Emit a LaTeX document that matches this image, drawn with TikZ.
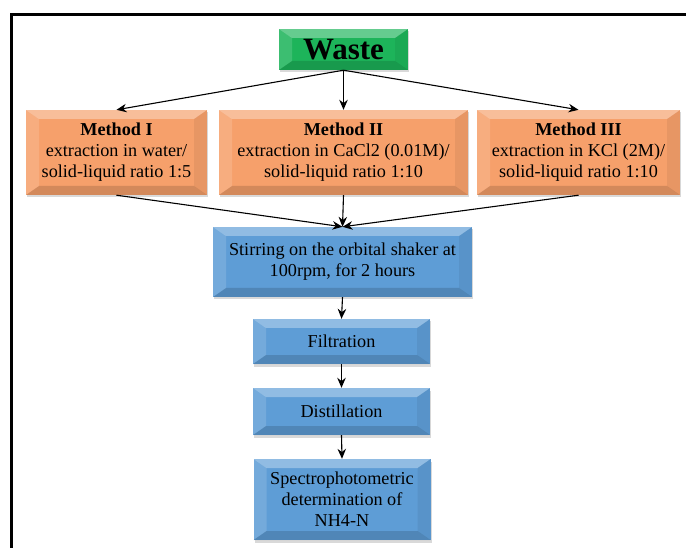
\documentclass[tikz,border=0pt]{standalone}
\usepackage{fontspec}
\setmainfont{Liberation Serif}
\usepackage{xcolor}
\usepackage{tikz}
\usetikzlibrary{calc,positioning,arrows.meta,shadows}
\definecolor{wastegreen}{HTML}{1DB45A}
\definecolor{methodorange}{HTML}{F6A06B}
\definecolor{stepblue}{HTML}{5E9DD6}

\begin{document}
\begin{tikzpicture}[x=1pt,y=-1pt,
  bevelbox/.style={draw=none, align=center, inner sep=2pt,
    font=\fontsize{18.2}{21}\selectfont,
    drop shadow={opacity=0.3, shadow xshift=1pt, shadow yshift=-2.5pt},
    path picture={
      \coordinate (nw) at (path picture bounding box.north west);
      \coordinate (ne) at (path picture bounding box.north east);
      \coordinate (sw) at (path picture bounding box.south west);
      \coordinate (se) at (path picture bounding box.south east);
      \fill[white, opacity=0.32] (nw) -- (ne) -- ($(ne)+(-13pt,-9pt)$) -- ($(nw)+(13pt,-9pt)$) -- cycle;
      \fill[white, opacity=0.14] (nw) -- ($(nw)+(13pt,-9pt)$) -- ($(sw)+(13pt,9pt)$) -- (sw) -- cycle;
      \fill[black, opacity=0.06] (ne) -- ($(ne)+(-13pt,-9pt)$) -- ($(se)+(-13pt,9pt)$) -- (se) -- cycle;
      \fill[black, opacity=0.14] (sw) -- ($(sw)+(13pt,9pt)$) -- ($(se)+(-13pt,9pt)$) -- (se) -- cycle;
    }},
  wastebox/.style={bevelbox, fill=wastegreen, minimum width=129pt, minimum height=41pt,
    font=\fontsize{31}{33}\selectfont\bfseries},
  methodbox/.style={bevelbox, fill=methodorange, minimum height=85pt},
  stepbox/.style={bevelbox, fill=stepblue, minimum width=177pt},
  flow/.style={-{Stealth[length=10pt,width=8.5pt]}, line width=1.1pt, black}
]
  \useasboundingbox (0,0) rectangle (686,548);
  % frame
  \draw[line width=3pt] (11,548) -- (11,15) -- (686,15);

  \node[wastebox] (waste) at (343.5,49.5) {Waste};

  \node[methodbox, minimum width=181pt] (m1) at (116.5,152.5) {\textbf{Method I}\\extraction in water/\\solid-liquid ratio 1:5};
  \node[methodbox, minimum width=249pt] (m2) at (343.5,152.5) {\textbf{Method II}\\extraction in CaCl2 (0.01M)/\\solid-liquid ratio 1:10};
  \node[methodbox, minimum width=203pt] (m3) at (578.5,152.5) {\textbf{Method III}\\extraction in KCl (2M)/\\solid-liquid ratio 1:10};

  \node[stepbox, minimum width=259pt, minimum height=70pt] (stir) at (342.5,262) {Stirring on the orbital shaker at\\100rpm, for 2 hours};
  \node[stepbox, minimum height=45pt] (filt) at (341.5,341.5) {Filtration};
  \node[stepbox, minimum height=47pt] (dist) at (341.5,411.5) {Distillation};
  \node[stepbox, minimum height=81pt] (spec) at (342,499.5) {Spectrophotometric\\determination of\\NH4-N};

  \draw[flow] (waste.south) -- (m1.north);
  \draw[flow] (waste.south) -- (m2.north);
  \draw[flow] (waste.south) -- (m3.north);
  \draw[flow] (m1.south) -- (stir.north);
  \draw[flow] (m2.south) -- (stir.north);
  \draw[flow] (m3.south) -- (stir.north);
  \draw[flow] (stir.south) -- (filt.north);
  \draw[flow] (filt.south) -- (dist.north);
  \draw[flow] (dist.south) -- (spec.north);
\end{tikzpicture}
\end{document}
